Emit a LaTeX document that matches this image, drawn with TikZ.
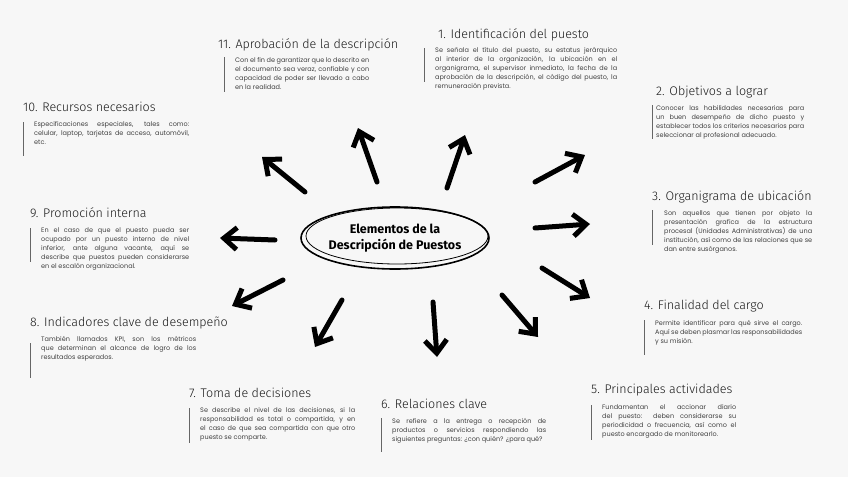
\documentclass[tikz,border=0pt]{standalone}
\usepackage{fontspec}
\setmainfont{Poppins}
\newfontfamily\titfont{Fira Sans Light}
\newfontfamily\boldfont{Fira Sans}
\usetikzlibrary{arrows.meta}
\hyphenpenalty=10000
\exhyphenpenalty=10000
\tikzset{
 ttl/.style={anchor=base west,inner sep=0pt,font=\titfont\fontsize{12.5}{14}\selectfont,text=black!90},
 bodytxt/.style={anchor=north west,inner sep=0pt,font=\fontsize{6.5}{9}\selectfont,text=black!75,align=justify},
 bar/.style={draw=black!60,line width=0.9pt},
 arr/.style={line width=5pt,line cap=round,-{Straight Barb[length=13pt,width=22pt,line width=5pt]}},
}
\begin{document}
\begin{tikzpicture}[x=1pt,y=-1pt]
\fill[black!3] (0,0) rectangle (848,477);
\useasboundingbox (0,0) rectangle (848,477);
% center
\node (c) at (395,238) [font=\boldfont\bfseries\fontsize{12.5}{16}\selectfont,align=center] {Elementos de la\\Descripción de Puestos};
\draw[line width=1.6pt] (395,238) ellipse (94 and 31);
\draw[line width=0.8pt] (397,236) ellipse (91 and 28);
% arrows
\coordinate (a1s) at (447,188); \coordinate (a1e) at (465,135);
\coordinate (a2s) at (535,182); \coordinate (a2e) at (585,155);
\coordinate (a3s) at (535,228); \coordinate (a3e) at (590,224);
\coordinate (a4s) at (542,268); \coordinate (a4e) at (590,298);
\coordinate (a5s) at (502,295); \coordinate (a5e) at (538,337);
\coordinate (a6s) at (433,302); \coordinate (a6e) at (437,357);
\coordinate (a7s) at (342,300); \coordinate (a7e) at (315,347);
\coordinate (a8s) at (283,280); \coordinate (a8e) at (232,306);
\coordinate (a9s) at (275,240); \coordinate (a9e) at (220,238);
\coordinate (a10s) at (305,192); \coordinate (a10e) at (262,157);
\coordinate (a11s) at (377,182); \coordinate (a11e) at (358,128);
\foreach \i in {1,...,11} \draw[arr] (a\i s) -- (a\i e);
% 11
\node[ttl] (t11) at (218,48) {11. Aprobación de la descripción};
\draw[bar] (224,57) -- (224,92);
\node[bodytxt,text width=134pt] (b11) at (235,57) {Con el fin de garantizar que lo descrito en el documento sea veraz, confiable y con capacidad de poder ser llevado a cabo en la realidad.};
% 1
\node[ttl] (t1) at (438,38) {1. Identificación del puesto};
\draw[bar] (424,48) -- (424,82);
\node[bodytxt,text width=182pt] (b1) at (435,47) {Se señala el título del puesto, su estatus jerárquico al interior de la organización, la ubicación en el organigrama, el supervisor inmediato, la fecha de la aprobación de la descripción, el código del puesto, la remuneración prevista.};
% 10
\node[ttl] (t10) at (23,111) {10. Recursos necesarios};
\draw[bar] (23,122) -- (23,156);
\node[bodytxt,text width=155pt] (b10) at (34,121) {Especificaciones especiales, tales como: celular, laptop, tarjetas de acceso, automóvil, etc.};
% 2
\node[ttl] (t2) at (656,95) {2. Objetivos a lograr};
\draw[bar] (652,105) -- (652,139);
\node[bodytxt,text width=148pt] (b2) at (656,105) {Conocer las habilidades necesarias para un buen desempeño de dicho puesto y establecer todos los criterios necesarios para seleccionar al profesional adecuado.};
% 3
\node[ttl] (t3) at (652,200) {3. Organigrama de ubicación};
\draw[bar] (652,210) -- (652,245);
\node[bodytxt,text width=148pt] (b3) at (664,210) {Son aquellos que tienen por objeto la presentación grafica de la estructura procesal (Unidades Administrativas) de una institución, así como de las relaciones que se dan entre susórganos.};
% 9
\node[ttl] (t9) at (30,217) {9. Promoción interna};
\draw[bar] (30,228) -- (30,262);
\node[bodytxt,text width=148pt] (b9) at (41,227) {En el caso de que el puesto pueda ser ocupado por un puesto interno de nivel inferior, ante alguna vacante, aquí se describe que puestos pueden considerarse en el escalón organizacional.};
% 4
\node[ttl] (t4) at (644,309) {4. Finalidad del cargo};
\draw[bar] (644,320) -- (644,355);
\node[bodytxt,text width=147pt] (b4) at (655,320) {Permite identificar para qué sirve el cargo. Aquí se deben plasmar las responsabilidades y su misión.};
% 8
\node[ttl] (t8) at (30,326) {8. Indicadores clave de desempeño};
\draw[bar] (30,343) -- (30,378);
\node[bodytxt,text width=155pt] (b8) at (41,336) {También llamados KPI, son los métricos que determinan el alcance de logro de los resultados esperados.};
% 7
\node[ttl] (t7) at (189,397) {7. Toma de decisiones};
\draw[bar] (189,408) -- (189,443);
\node[bodytxt,text width=155pt] (b7) at (200,407) {Se describe el nivel de las decisiones, si la responsabilidad es total o compartida, y en el caso de que sea compartida con que otro puesto se comparte.};
% 6
\node[ttl] (t6) at (381,408) {6. Relaciones clave};
\draw[bar] (381,418) -- (381,452);
\node[bodytxt,text width=154pt] (b6) at (392,418) {Se refiere a la entrega o recepción de productos o servicios respondiendo las siguientes preguntas: ¿con quién? ¿para qué?};
% 5
\node[ttl] (t5) at (591,393) {5. Principales actividades};
\draw[bar] (591,405) -- (591,440);
\node[bodytxt,text width=134pt] (b5) at (602,404) {Fundamentan el accionar diario del puesto: deben considerarse su periodicidad o frecuencia, así como el puesto encargado de monitorearlo.};
\end{tikzpicture}
\end{document}
